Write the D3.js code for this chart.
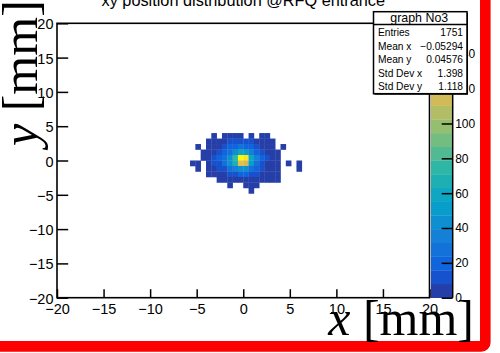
<!DOCTYPE html>
<html>
<head>
<meta charset="utf-8">
<script src="https://cdn.jsdelivr.net/npm/d3@7"></script>
<style>
  html, body { margin: 0; padding: 0; background: #fff; }
  svg { display: block; }
</style>
</head>
<body>
<svg id="chart" width="500" height="353"></svg>
<script>
// ---- histogram definition: 70 x 50 bins over [-20, 20] mm ----
const xRange = [-20, 20];
const yRange = [-20, 20];
const nBinsX = 70;
const nBinsY = 50;

// filled block of bins: first column (from the left) and first row (from the top)
const firstCol = 25;
const firstRow = 20;

// bin contents, one row per y-bin (top to bottom), columns 25..45
const counts = [
  [0,0,0,0,2,0,3,2,4,3,0,2,0,2,1,0,0,0,0,0,0],
  [0,0,0,2,3,5,7,10,12,14,12,9,6,4,3,2,0,0,0,0,0],
  [0,1,0,3,4,7,11,17,22,25,22,17,11,7,4,2,0,1,0,0,0],
  [0,0,2,3,6,11,19,30,44,58,52,38,22,12,6,3,2,0,0,0,0],
  [0,0,2,4,9,16,27,45,76,150,146,62,35,17,8,4,2,0,0,0,0],
  [1,2,0,3,8,14,24,40,66,122,118,52,30,15,7,4,2,0,1,0,1],
  [0,2,0,3,5,9,15,24,34,45,41,29,17,9,5,3,2,0,0,0,1],
  [0,0,0,1,2,4,7,10,14,18,16,12,8,5,3,2,1,0,0,0,0],
  [0,0,0,0,0,1,2,4,5,6,6,5,3,2,1,1,1,0,0,0,0],
  [0,0,0,0,0,0,0,1,0,0,2,1,1,0,0,0,0,0,0,0,0],
  [0,0,0,0,0,0,0,0,0,0,0,1,0,0,0,0,0,0,0,0,0]
];

const xTicks = [-20, -15, -10, -5, 0, 5, 10, 15, 20];
const yTicks = [-20, -15, -10, -5, 0, 5, 10, 15, 20];
const zTicks = [0, 20, 40, 60, 80, 100, 120, 140];
const zMax = 157.5;
const nContours = 20;

const titleText = "xy position distribution @RFQ entrance";
const statsTitle = "graph No3";
const statLabels = ["Entries", "Mean x", "Mean y", "Std Dev x", "Std Dev y"];
const statValues = ["1751", "\u22120.05294", "0.04576", "1.398", "1.118"];

// ---- "bird" palette (255 colours, linear gradient between stops) ----
const birdStops = [0.0, 0.125, 0.25, 0.375, 0.5, 0.625, 0.75, 0.875, 1.0];
const birdR = [0.2082, 0.0592, 0.0780, 0.0232, 0.1802, 0.5301, 0.8186, 0.9956, 0.9764];
const birdG = [0.1664, 0.3599, 0.5041, 0.6419, 0.7178, 0.7492, 0.7328, 0.7862, 0.9832];
const birdB = [0.5293, 0.8684, 0.8385, 0.7914, 0.6425, 0.4662, 0.3499, 0.1968, 0.0539];

const palette = [];
for (let g = 1; g < birdStops.length; g++) {
  const n = Math.floor(255 * birdStops[g]) - Math.floor(255 * birdStops[g - 1]);
  for (let c = 0; c < n; c++) {
    const f = c / n;
    palette.push(d3.rgb(
      255 * (birdR[g - 1] + f * (birdR[g] - birdR[g - 1])),
      255 * (birdG[g - 1] + f * (birdG[g] - birdG[g - 1])),
      255 * (birdB[g - 1] + f * (birdB[g] - birdB[g - 1]))
    ).formatHex());
  }
}
function bandColor(k) {
  const idx = Math.floor((k + 0.99) * palette.length / nContours);
  return palette[Math.min(idx, palette.length - 1)];
}
function valueColor(v) {
  const k = Math.min(nContours - 1, Math.floor(v / zMax * nContours));
  return bandColor(k);
}

// ---- layout ----
const frame = { left: 57, right: 429.5, top: 23.3, bottom: 297.7 };
const bar = { left: 431, right: 452.7 };
const labelFont = "'Liberation Sans', Arial, Helvetica, sans-serif";
const serifFont = "'Liberation Serif', 'Times New Roman', serif";

const svg = d3.select("#chart");
svg.append("rect").attr("width", 500).attr("height", 353).attr("fill", "#fff");

const x = d3.scaleLinear().domain(xRange).range([frame.left, frame.right]);
const y = d3.scaleLinear().domain(yRange).range([frame.bottom, frame.top]);
const z = d3.scaleLinear().domain([0, zMax]).range([frame.bottom, frame.top]);

const bwX = (xRange[1] - xRange[0]) / nBinsX;
const bwY = (yRange[1] - yRange[0]) / nBinsY;

// ---- bins ----
const cells = [];
counts.forEach((row, r) => {
  row.forEach((v, c) => {
    if (v > 0) {
      const col = firstCol + c;
      const rowIdx = firstRow + r;
      const x0 = xRange[0] + col * bwX;
      const yTop = yRange[1] - rowIdx * bwY;
      cells.push({ x0, x1: x0 + bwX, y0: yTop - bwY, y1: yTop, v });
    }
  });
});
svg.append("g").selectAll("rect").data(cells).join("rect")
  .attr("x", d => x(d.x0))
  .attr("y", d => y(d.y1))
  .attr("width", d => x(d.x1) - x(d.x0) + 0.3)
  .attr("height", d => y(d.y0) - y(d.y1) + 0.3)
  .attr("fill", d => valueColor(d.v));

// ---- colour bar ----
const bands = d3.range(nContours).map(k => ({ k, z0: k * zMax / nContours, z1: (k + 1) * zMax / nContours }));
svg.append("g").selectAll("rect").data(bands).join("rect")
  .attr("x", bar.left)
  .attr("y", d => z(d.z1))
  .attr("width", bar.right - bar.left)
  .attr("height", d => z(d.z0) - z(d.z1) + 0.3)
  .attr("fill", d => bandColor(d.k));

const zAxis = svg.append("g")
  .attr("transform", `translate(${bar.right},0)`)
  .call(d3.axisRight(z).tickValues(zTicks).tickSize(-11).tickPadding(2.5));
zAxis.select(".domain").attr("stroke-width", 1.5).attr("d", `M0,${frame.top}V${frame.bottom}`);
zAxis.selectAll(".tick line").attr("stroke-width", 1.5);
zAxis.selectAll("text").attr("font-family", labelFont).attr("font-size", 12).attr("fill", "#000");

// ---- axes (ticks inside the frame) ----
const xMinor = d3.range(-20, 21, 1);
const yMinor = d3.range(-20, 21, 1);

const gx = svg.append("g").attr("transform", `translate(0,${frame.bottom})`);
gx.call(d3.axisBottom(x).tickValues(xMinor).tickSize(-4.2).tickFormat(""));
gx.call(d3.axisBottom(x).tickValues(xTicks).tickSize(-8.5).tickPadding(5.6));
gx.selectAll(".domain").remove();
gx.selectAll(".tick line").attr("stroke-width", 1.5);
gx.selectAll("text").attr("font-family", labelFont).attr("font-size", 14.5).attr("fill", "#000");

const gy = svg.append("g").attr("transform", `translate(${frame.left},0)`);
gy.call(d3.axisLeft(y).tickValues(yMinor).tickSize(-5.6).tickFormat(""));
gy.call(d3.axisLeft(y).tickValues(yTicks).tickSize(-11.2).tickPadding(3.5));
gy.selectAll(".domain").remove();
gy.selectAll(".tick line").attr("stroke-width", 1.5);
gy.selectAll("text").attr("font-family", labelFont).attr("font-size", 14.5).attr("fill", "#000")
  .attr("dy", "0.38em");

// frame
svg.append("rect")
  .attr("x", frame.left).attr("y", frame.top)
  .attr("width", frame.right - frame.left).attr("height", frame.bottom - frame.top)
  .attr("fill", "none").attr("stroke", "#000").attr("stroke-width", 1.6);

// ---- statistics box ----
const sb = { x: 373.5, y: 11.7, w: 93.5, h: 82, head: 24.4 };
svg.append("rect").attr("x", sb.x + 1).attr("y", sb.y + 1).attr("width", sb.w).attr("height", sb.h).attr("fill", "#000");
svg.append("rect").attr("x", sb.x).attr("y", sb.y).attr("width", sb.w).attr("height", sb.h)
  .attr("fill", "#fff").attr("stroke", "#000").attr("stroke-width", 1.5);
svg.append("line").attr("x1", sb.x).attr("x2", sb.x + sb.w).attr("y1", sb.head).attr("y2", sb.head)
  .attr("stroke", "#000").attr("stroke-width", 1.5);
svg.append("text").attr("x", sb.x + sb.w / 2 - 1).attr("y", 22).attr("text-anchor", "middle")
  .attr("font-family", labelFont).attr("font-size", 12.4).text(statsTitle);
const rowBase = [35.8, 49.5, 63.2, 76.9, 90.4];
svg.append("g").selectAll("text").data(statLabels).join("text")
  .attr("x", sb.x + 4.5).attr("y", (d, i) => rowBase[i])
  .attr("font-family", labelFont).attr("font-size", 10.2).text(d => d);
svg.append("g").selectAll("text").data(statValues).join("text")
  .attr("x", sb.x + sb.w - 4).attr("y", (d, i) => rowBase[i]).attr("text-anchor", "end")
  .attr("font-family", labelFont).attr("font-size", 10.2).text(d => d);

// ---- title ----
svg.append("text").attr("x", 243.3).attr("y", 6).attr("text-anchor", "middle")
  .attr("font-family", labelFont).attr("font-size", 16.3).text(titleText);

// ---- red canvas border ----
svg.append("rect").attr("x", -20).attr("y", -20).attr("width", 505.3).attr("height", 366.4)
  .attr("rx", 4).attr("fill", "none").attr("stroke", "#f00").attr("stroke-width", 10.6);

// ---- axis titles ----
const xt = svg.append("text").attr("x", 474).attr("y", 335).attr("text-anchor", "end")
  .attr("font-family", serifFont).attr("font-size", 50);
xt.append("tspan").attr("font-style", "italic").text("x");
xt.append("tspan").text(" [mm]");

const yt = svg.append("text").attr("transform", "translate(37,146) rotate(-90)")
  .attr("font-family", serifFont).attr("font-size", 50);
yt.append("tspan").attr("font-style", "italic").text("y");
yt.append("tspan").text(" [mm]");
</script>
</body>
</html>
